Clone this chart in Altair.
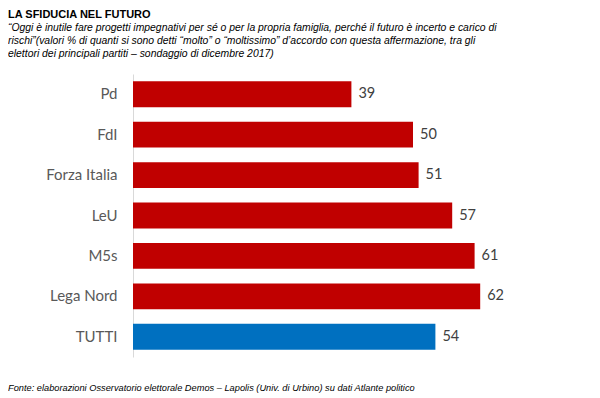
import altair as alt
import pandas as pd

partiti = ["Pd", "FdI", "Forza Italia", "LeU", "M5s", "Lega Nord", "TUTTI"]
valori = [39, 50, 51, 57, 61, 62, 54]

titolo = "LA SFIDUCIA NEL FUTURO"
sottotitolo = [
    "“Oggi è inutile fare progetti impegnativi per sé o per la propria famiglia, perché il futuro è incerto e carico di",
    "rischi”(valori % di quanti si sono detti “molto” o “moltissimo” d’accordo con questa affermazione, tra  gli",
    "elettori dei principali partiti – sondaggio di dicembre 2017)",
]
fonte = "Fonte: elaborazioni Osservatorio elettorale Demos – Lapolis (Univ. di Urbino) su dati Atlante politico"

df = pd.DataFrame({"partito": partiti, "valore": valori})

y_enc = alt.Y(
    "partito:N",
    sort=partiti,
    scale=alt.Scale(paddingInner=0.36, paddingOuter=0.18),
    axis=alt.Axis(
        title=None,
        ticks=False,
        domainColor="#d9d9d9",
        domainWidth=1,
        labelFont="Lato",
        labelFontSize=15,
        labelColor="#595959",
        labelPadding=16,
    ),
)
x_enc = alt.X("valore:Q", scale=alt.Scale(domain=[0, 70]), axis=None)

bars = alt.Chart(df).mark_bar().encode(
    y=y_enc,
    x=x_enc,
    color=alt.condition(
        alt.datum.partito == "TUTTI", alt.value("#0070C0"), alt.value("#C00000")
    ),
)

labels = alt.Chart(df).mark_text(
    align="left", baseline="middle", dx=7, font="Lato", fontSize=14.5, color="#404040"
).encode(y=y_enc, x=x_enc, text="valore:Q")

note = alt.Chart(pd.DataFrame({"t": [fonte]})).mark_text(
    align="left", baseline="alphabetic", font="Liberation Sans", fontStyle="italic",
    fontSize=9.25, color="#000000"
).encode(text="t:N", x=alt.value(-125), y=alt.value(317))

chart = (
    alt.layer(bars, labels, note)
    .properties(
        width=392,
        height=283,
        autosize=alt.AutoSizeParams(type="none"),
        padding={"left": 125, "top": 66, "right": 67, "bottom": 40},
        title=alt.TitleParams(
            text=titolo,
            subtitle=sottotitolo,
            anchor="start",
            frame="group",
            dx=-125,
            offset=15,
            font="Liberation Sans",
            fontSize=11,
            fontWeight="bold",
            color="#000000",
            subtitleFont="Liberation Sans",
            subtitleFontStyle="italic",
            subtitleFontSize=10.4,
            subtitleLineHeight=13,
            subtitlePadding=3,
            subtitleColor="#000000",
        ),
    )
    .configure_view(stroke=None)
)

chart.save("out.html", embed_options={"renderer": "svg", "actions": False})
